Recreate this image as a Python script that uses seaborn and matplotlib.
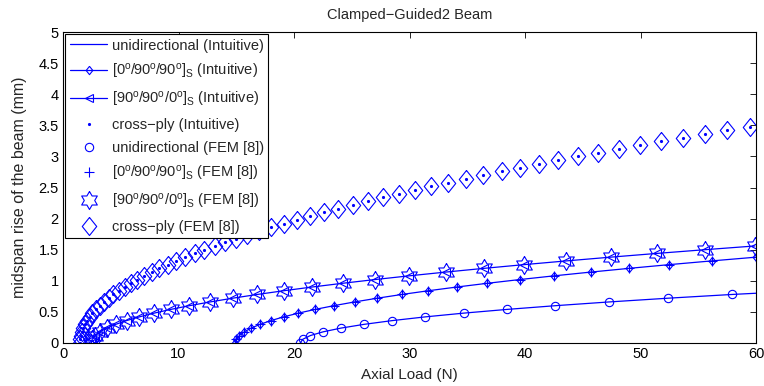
import numpy as np
import matplotlib
matplotlib.use("Agg")
import matplotlib.pyplot as plt
import seaborn as sns

# midspan rise (mm) at each load step, shared by every layup
rise = [0.00, 0.06, 0.12, 0.18, 0.24, 0.30, 0.36, 0.42, 0.48, 0.54,
        0.60, 0.66, 0.72, 0.78, 0.84, 0.90, 0.96, 1.02, 1.08, 1.14,
        1.20, 1.26, 1.32, 1.38, 1.44, 1.50, 1.56, 1.62, 1.68, 1.74,
        1.80, 1.86, 1.92, 1.98, 2.04, 2.10, 2.16, 2.22, 2.28, 2.34,
        2.40, 2.46, 2.52, 2.58, 2.64, 2.70, 2.76, 2.82, 2.88, 2.94,
        3.00, 3.06, 3.12, 3.18, 3.24, 3.30, 3.36, 3.42, 3.48]

# axial load (N) for each rise step
load_unidir = [20.54, 20.76, 21.42, 22.53, 24.08, 26.07, 28.50, 31.37,
               34.68, 38.44, 42.64, 47.28, 52.36, 57.89]
load_0_90_90 = [14.93, 15.02, 15.27, 15.70, 16.29, 17.06, 18.00, 19.10,
                20.38, 21.83, 23.45, 25.24, 27.20, 29.33, 31.63, 34.10,
                36.74, 39.55, 42.53, 45.69, 49.01, 52.50, 56.17, 60.00]
load_90_90_0 = [2.44, 2.53, 2.78, 3.21, 3.80, 4.57, 5.50, 6.61, 7.88,
                9.33, 10.94, 12.73, 14.68, 16.81, 19.10, 21.57, 24.20,
                27.01, 29.98, 33.13, 36.44, 39.93, 43.58, 47.41, 51.40,
                55.57, 59.90]
load_crossply = [1.45, 1.47, 1.52, 1.61, 1.73, 1.88, 2.07, 2.30, 2.55,
                 2.85, 3.18, 3.54, 3.94, 4.37, 4.83, 5.33, 5.87, 6.44,
                 7.04, 7.68, 8.35, 9.06, 9.80, 10.58, 11.39, 12.24, 13.12,
                 14.03, 14.98, 15.97, 16.99, 18.04, 19.13, 20.25, 21.40,
                 22.59, 23.82, 25.08, 26.37, 27.70, 29.07, 30.47, 31.90,
                 33.37, 34.87, 36.40, 37.97, 39.58, 41.22, 42.89, 44.60,
                 46.35, 48.12, 49.94, 51.78, 53.67, 55.58, 57.53, 59.52]

# the intuitive unidirectional curve runs on to the frame edge
load_unidir_line = load_unidir + [60.0]
rise_unidir_line = rise[:len(load_unidir)] + [0.80]

labels = [
    "unidirectional (Intuitive)",
    r"$[0^{\rm o}/90^{\rm o}/90^{\rm o}]_{\rm S}$ (Intuitive)",
    r"$[90^{\rm o}/90^{\rm o}/0^{\rm o}]_{\rm S}$ (Intuitive)",
    "cross\u2212ply (Intuitive)",
    "unidirectional (FEM [8])",
    r"$[0^{\rm o}/90^{\rm o}/90^{\rm o}]_{\rm S}$ (FEM [8])",
    r"$[90^{\rm o}/90^{\rm o}/0^{\rm o}]_{\rm S}$ (FEM [8])",
    "cross\u2212ply (FEM [8])",
]

sns.set_style("white")
plt.rcParams["font.family"] = ["Liberation Sans", "DejaVu Sans"]
plt.rcParams["mathtext.fontset"] = "custom"
plt.rcParams["mathtext.rm"] = "Liberation Sans"
plt.rcParams["mathtext.it"] = "Liberation Sans:italic"
plt.rcParams["mathtext.bf"] = "Liberation Sans:bold"

# MATLAB-like marker shapes
diamond = [(0, 1), (0.8, 0), (0, -1), (-0.8, 0), (0, 1)]
ang = np.deg2rad(np.arange(12) * 30 + 90)
rad = np.where(np.arange(12) % 2 == 0, 1.0, 1 / np.sqrt(3))
hexagram = list(zip(rad * np.cos(ang), rad * np.sin(ang)))
hexagram.append(hexagram[0])

blue = "#0000ff"
fig = plt.figure(figsize=(7.64, 3.86), dpi=100)
ax = fig.add_axes([63 / 764, 1 - 343 / 386, (756 - 63) / 764, (343 - 32) / 386])

common = dict(sort=False, estimator=None, color=blue, ax=ax)
hollow = dict(markerfacecolor="none", markeredgecolor=blue, markeredgewidth=0.8)

sns.lineplot(x=load_unidir_line, y=rise_unidir_line, lw=0.9,
             label=labels[0], **common)
sns.lineplot(x=load_0_90_90, y=rise[:len(load_0_90_90)], lw=0.9,
             marker=diamond, markersize=6, label=labels[1], **hollow, **common)
sns.lineplot(x=load_90_90_0, y=rise[:len(load_90_90_0)], lw=0.9,
             marker="<", markersize=6, label=labels[2], **hollow, **common)
sns.lineplot(x=load_crossply, y=rise[:len(load_crossply)], linestyle="none",
             marker=".", markersize=3, markerfacecolor=blue,
             markeredgecolor=blue, label=labels[3], **common)
sns.lineplot(x=load_unidir, y=rise[:len(load_unidir)], linestyle="none",
             marker="o", markersize=6, label=labels[4], **hollow, **common)
sns.lineplot(x=load_0_90_90, y=rise[:len(load_0_90_90)], linestyle="none",
             marker="+", markersize=7, markeredgecolor=blue,
             markeredgewidth=0.8, label=labels[5], **common)
sns.lineplot(x=load_90_90_0, y=rise[:len(load_90_90_0)], linestyle="none",
             marker=hexagram, markersize=13, label=labels[6], **hollow, **common)
sns.lineplot(x=load_crossply, y=rise[:len(load_crossply)], linestyle="none",
             marker=diamond, markersize=13, label=labels[7], **hollow, **common)

ax.set_xlim(0, 60)
ax.set_ylim(0, 5)
ax.set_xticks(np.arange(0, 61, 10))
ax.set_yticks(np.arange(0, 5.01, 0.5))
ax.set_yticklabels(["0", "0.5", "1", "1.5", "2", "2.5", "3", "3.5", "4", "4.5", "5"])
ax.tick_params(direction="in", top=True, right=True, length=4, width=0.6,
               labelsize=10.5, colors="black", pad=3)
for sp in ax.spines.values():
    sp.set_color("black")
    sp.set_linewidth(0.8)

ax.set_title("Clamped\u2212Guided2 Beam", fontsize=10.5, pad=9)
ax.set_xlabel("Axial Load (N)", fontsize=11, labelpad=5)
ax.set_ylabel("midspan rise of the beam (mm)", fontsize=11.5, labelpad=8)

handles, labs = ax.get_legend_handles_labels()
leg = ax.legend(handles, labs, loc="upper left", bbox_to_anchor=(0, 1),
                borderaxespad=0.15, fontsize=10.5, numpoints=1,
                handlelength=2.6, handletextpad=0.3, labelspacing=0.62,
                borderpad=0.3, fancybox=False, framealpha=1,
                edgecolor="black")
leg.get_frame().set_linewidth(0.8)

fig.savefig("out.png", dpi=100, facecolor="white")
